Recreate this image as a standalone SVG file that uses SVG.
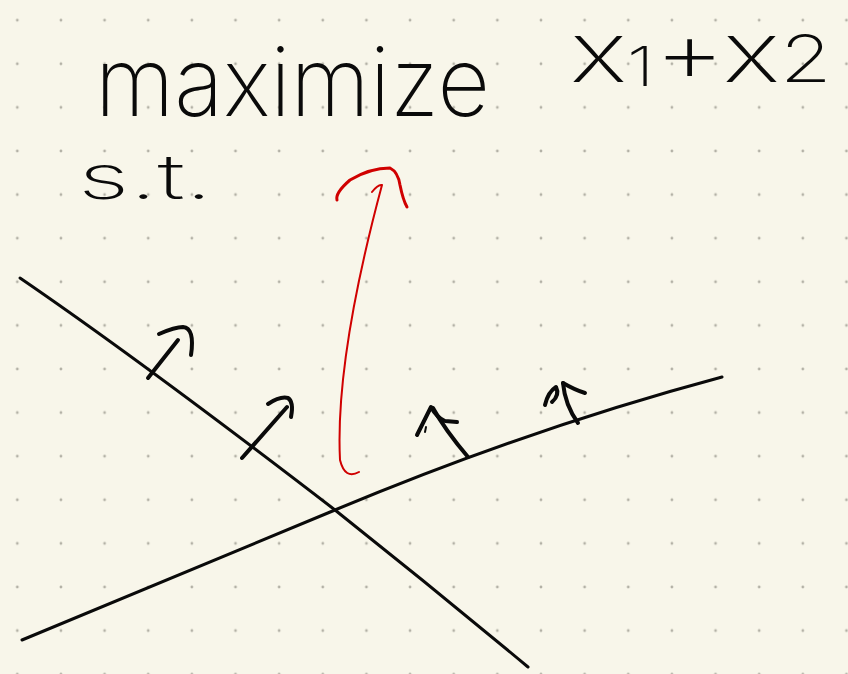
<svg xmlns="http://www.w3.org/2000/svg" width="848" height="674" viewBox="0 0 848 674">
<style>
.ink{fill:none;stroke:#0a0a0a;stroke-linecap:round;stroke-linejoin:round}
.line{stroke-width:3}
.arr{stroke-width:4}
.red{fill:none;stroke:#d00000;stroke-linecap:round;stroke-linejoin:round}
.hand{font-family:Inter,"Open Sans","Liberation Sans",sans-serif;font-weight:200;fill:#0a0a0a}
</style>
<defs>
<pattern id="dots" x="-4.5" y="-1.6" width="43.64" height="43.6" patternUnits="userSpaceOnUse">
<circle cx="21.8" cy="21.8" r="1.4" fill="#b3b1a6"/>
</pattern>
</defs>
<rect width="848" height="674" fill="#f8f6ea"/>
<rect width="848" height="674" fill="url(#dots)"/>
<g id="title">
<text class="hand" x="95" y="116" font-size="96" textLength="395" lengthAdjust="spacingAndGlyphs">maximize</text>
<text class="hand" x="570" y="82" font-size="85" textLength="262" lengthAdjust="spacingAndGlyphs">x<tspan font-size="55" dy="4">1</tspan><tspan dy="-4">+x</tspan><tspan font-size="65">2</tspan></text>
<text class="hand" x="78" y="199" font-size="62" textLength="135" lengthAdjust="spacingAndGlyphs">s.t.</text>
</g>
<g id="constraint1">
<path class="ink line" d="M20,278 Q140,360 335,510 Q432,587 528,667"/>
</g>
<g id="constraint2">
<path class="ink line" d="M22,640 Q180,575 335,510 Q528,429 722,377"/>
</g>
<g id="connectors">
<g id="arrowA">
<path class="ink arr" d="M148,378 L178,340"/>
<path class="ink arr" d="M159,334 Q175,327 183,327 Q195,328 191,355"/>
</g>
<g id="arrowB">
<path class="ink arr" d="M242,458 L287,407"/>
<path class="ink arr" d="M268,404 Q280,396 288,398 Q294,402 291,417"/>
</g>
<g id="arrowC">
<path class="ink arr" d="M468,457 Q445,430 433,408"/>
<path class="ink arr" d="M417,435 L431,407 Q437,418 445,421 L457,422"/>
<path class="ink" stroke-width="2" d="M426,427 L425,432"/>
</g>
<g id="arrowD">
<path class="ink arr" d="M578,423 Q565,405 563,383"/>
<path class="ink arr" d="M545,405 Q548,392 556,387 Q560,395 552,402 M563,383 Q575,390 585,393"/>
</g>
<g id="objective">
<path class="red" stroke-width="2" d="M359,472 Q345,480 340,460 Q335,360 382,185 Q378,184 372,192"/>
<path class="red" stroke-width="3" d="M337,200 Q335,193 350,180 Q370,168 390,168 Q398,172 400,185 Q403,200 407,207"/>
</g>
</g>
</svg>
